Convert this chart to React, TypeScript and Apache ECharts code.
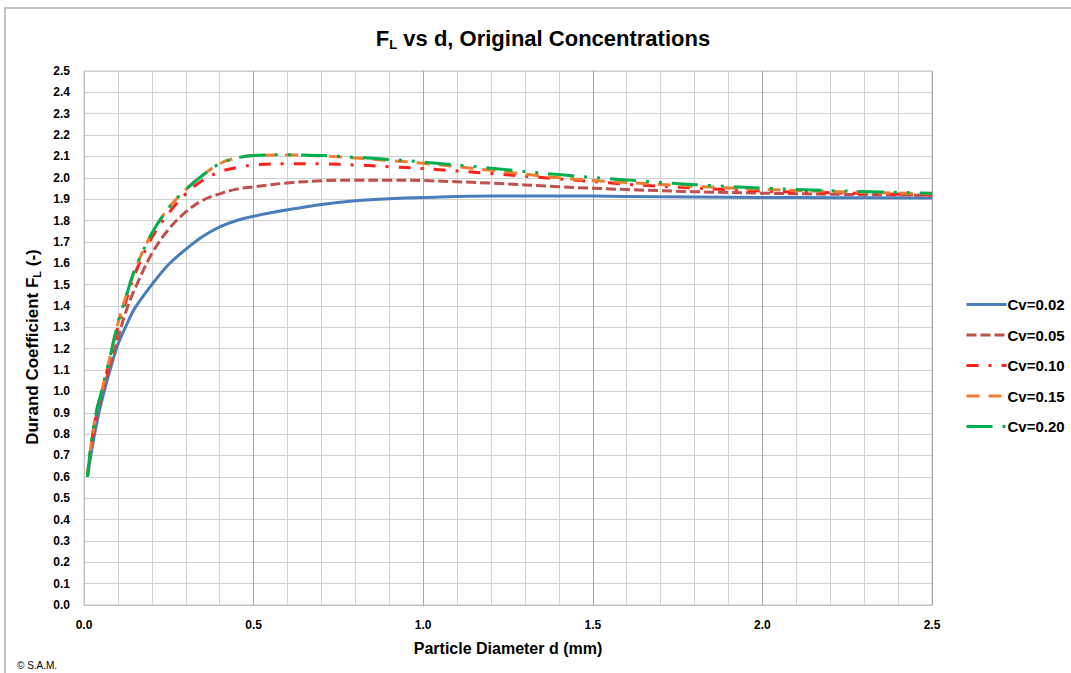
import React, { useEffect, useRef } from "react";
import * as echarts from "echarts";

const diameters = [0.01, 0.02, 0.03, 0.04, 0.05, 0.075, 0.1, 0.125, 0.15, 0.2, 0.25, 0.3, 0.35, 0.4, 0.45, 0.5, 0.6, 0.7, 0.8, 0.9, 1.0, 1.2, 1.4, 1.6, 1.8, 2.0, 2.2, 2.5];

const seriesNames = ["Cv=0.02", "Cv=0.05", "Cv=0.10", "Cv=0.15", "Cv=0.20"];

const cv002 = [0.6, 0.7, 0.79, 0.87, 0.94, 1.09, 1.22, 1.31, 1.39, 1.5, 1.595, 1.665, 1.725, 1.77, 1.8, 1.82, 1.85, 1.875, 1.892, 1.902, 1.908, 1.915, 1.915, 1.913, 1.91, 1.908, 1.907, 1.905];
const cv005 = [0.6, 0.72, 0.83, 0.91, 0.97, 1.11, 1.25, 1.38, 1.48, 1.645, 1.76, 1.84, 1.895, 1.925, 1.947, 1.958, 1.976, 1.986, 1.989, 1.989, 1.987, 1.975, 1.958, 1.945, 1.935, 1.928, 1.923, 1.918];
const cv010 = [0.6, 0.73, 0.84, 0.92, 0.98, 1.14, 1.3, 1.43, 1.55, 1.72, 1.835, 1.925, 1.988, 2.028, 2.048, 2.06, 2.066, 2.065, 2.06, 2.052, 2.043, 2.02, 1.995, 1.97, 1.952, 1.938, 1.93, 1.92];
const cv015 = [0.6, 0.74, 0.85, 0.93, 0.99, 1.15, 1.32, 1.45, 1.57, 1.74, 1.86, 1.945, 2.012, 2.066, 2.093, 2.104, 2.107, 2.102, 2.093, 2.081, 2.068, 2.035, 2.0, 1.978, 1.96, 1.946, 1.936, 1.925];
const cv020 = [0.6, 0.74, 0.85, 0.93, 0.99, 1.15, 1.32, 1.45, 1.57, 1.74, 1.86, 1.945, 2.012, 2.066, 2.093, 2.104, 2.108, 2.104, 2.096, 2.086, 2.074, 2.045, 2.015, 1.99, 1.968, 1.952, 1.94, 1.928];

const seriesValues = [cv002, cv005, cv010, cv015, cv020];
const colors = ["#4A7EBB", "#C0504D", "#FF1F1F", "#ED7D31", "#00B050"];
const dashes: any[] = ["solid", [10, 4], [12, 10, 3, 10], [13, 9], [26, 10, 3, 10, 3, 10]];

const FONT = "'Liberation Sans', Arial, sans-serif";

export default function App() {
  const ref = useRef<HTMLDivElement>(null);
  useEffect(() => {
    if (!ref.current) return;
    const chart = echarts.init(ref.current, null, { renderer: "svg" });
    const series = seriesNames.map((name, i) => ({
      name,
      type: "line",
      smooth: 0.35,
      symbol: "none",
      data: diameters.map((d, j) => [d, seriesValues[i][j]]),
      lineStyle: { color: colors[i], width: 3, type: dashes[i], cap: "butt" },
      itemStyle: { color: colors[i] },
      z: 2 + i,
    }));
    chart.setOption({
      animation: false,
      backgroundColor: "#ffffff",
      textStyle: { fontFamily: FONT },
      grid: { left: 84, right: 139, top: 71, bottom: 68, show: true, borderColor: "#c8c8c8", borderWidth: 1 },
      xAxis: {
        type: "value",
        min: 0,
        max: 2.5,
        interval: 0.5,
        axisLine: { show: true, lineStyle: { color: "#bfbfbf", width: 1 } },
        axisTick: { show: false },
        axisLabel: { formatter: (v: number) => v.toFixed(1), fontWeight: "bold", fontSize: 12, color: "#000", margin: 14, fontFamily: FONT },
        splitLine: { show: true, lineStyle: { color: "#a6a6a6", width: 1 } },
        minorTick: { show: false, splitNumber: 5 },
        minorSplitLine: { show: true, lineStyle: { color: "#d0d0d0", width: 1 } },
      },
      yAxis: {
        type: "value",
        min: 0,
        max: 2.5,
        interval: 0.1,
        axisLine: { show: true, lineStyle: { color: "#bfbfbf", width: 1 } },
        axisTick: { show: false },
        axisLabel: { formatter: (v: number) => v.toFixed(1), fontWeight: "bold", fontSize: 12, color: "#000", margin: 14, fontFamily: FONT },
        splitLine: { show: true, lineStyle: { color: "#d0d0d0", width: 1 } },
      },
      legend: {
        orient: "vertical",
        left: 960,
        top: 292,
        itemWidth: 40,
        itemHeight: 14,
        itemGap: 15.5,
        data: seriesNames,
        itemStyle: { opacity: 0 },
        lineStyle: { width: 3 },
        textStyle: { fontSize: 15, fontWeight: "bold", color: "#000", fontFamily: FONT, padding: [0, 0, 0, -4] },
      },
      graphic: [
        { type: "rect", shape: { x: 5, y: 8, width: 1200, height: 800 }, style: { fill: "none", stroke: "#c4c4c4", lineWidth: 2 }, silent: true },
        {
          type: "text",
          x: 543,
          y: 38,
          style: {
            text: "{b|F}{s|L}{b| vs d, Original Concentrations}",
            align: "center",
            verticalAlign: "middle",
            rich: {
              b: { fontSize: 22, fontWeight: "bold", fontFamily: FONT, fill: "#000" },
              s: { fontSize: 13, fontWeight: "bold", fontFamily: FONT, fill: "#000", padding: [13, 0, 0, 0] },
            },
          },
        },
        {
          type: "text",
          x: 508,
          y: 648,
          style: { text: "Particle Diameter d (mm)", align: "center", verticalAlign: "middle", font: `bold 16px ${FONT}`, fill: "#000" },
        },
        {
          type: "text",
          x: 32,
          y: 347,
          rotation: Math.PI / 2,
          style: {
            text: "{b|Durand Coefficient F}{s|L}{b| (-)}",
            align: "center",
            verticalAlign: "middle",
            rich: {
              b: { fontSize: 17, fontWeight: "bold", fontFamily: FONT, fill: "#000" },
              s: { fontSize: 11, fontWeight: "bold", fontFamily: FONT, fill: "#000", padding: [10, 0, 0, 0] },
            },
          },
        },
        {
          type: "text",
          x: 17,
          y: 665,
          style: { text: "© S.A.M.", align: "left", verticalAlign: "middle", font: `10px ${FONT}`, fill: "#000" },
        },
      ],
      series,
    });
    return () => chart.dispose();
  }, []);
  return <div ref={ref} style={{ position: "fixed", left: 0, top: 0, width: 1071, height: 673, background: "#fff" }} />;
}
